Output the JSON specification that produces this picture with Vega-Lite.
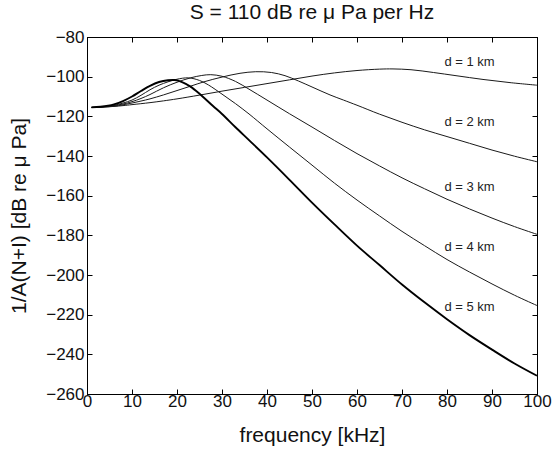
{
  "$schema": "https://vega.github.io/schema/vega-lite/v6.json",
  "width": 450,
  "height": 357,
  "autosize": {"type": "none"},
  "padding": {"left": 87, "top": 37, "right": 18, "bottom": 56},
  "background": "white",
  "title": {"text": "S = 110 dB re μ Pa per Hz", "orient": "top", "frame": "group", "fontSize": 21, "font": "Liberation Sans", "fontWeight": "normal", "color": "#111", "baseline": "bottom", "offset": 10, "dy": 26, "anchor": "middle"},
  "config": {
    "view": {"stroke": "#000", "strokeWidth": 1},
    "axis": {"grid": false, "minExtent": 0, "domainColor": "#000", "domainWidth": 1, "tickColor": "#000", "tickWidth": 1, "tickSize": -5, "labelFont": "Liberation Sans", "labelFontSize": 17, "labelColor": "#111", "titleFont": "Liberation Sans", "titleFontSize": 21, "titleFontWeight": "normal", "titleColor": "#111", "labelOverlap": false, "labelFlush": false}
  },
  "datasets": {
    "curves": [
      {"d": "1", "f": 1, "v": -115.5}, {"d": "1", "f": 3, "v": -115.4}, {"d": "1", "f": 6, "v": -115.0}, {"d": "1", "f": 8, "v": -114.6}, {"d": "1", "f": 10, "v": -114.1}, {"d": "1", "f": 14, "v": -113.1}, {"d": "1", "f": 17, "v": -112.2}, {"d": "1", "f": 20, "v": -111.2}, {"d": "1", "f": 25, "v": -109.3}, {"d": "1", "f": 30, "v": -107.3}, {"d": "1", "f": 35, "v": -105.4}, {"d": "1", "f": 40, "v": -103.5}, {"d": "1", "f": 45, "v": -101.6}, {"d": "1", "f": 50, "v": -99.7}, {"d": "1", "f": 55, "v": -98.1}, {"d": "1", "f": 60, "v": -96.9}, {"d": "1", "f": 65, "v": -96.2}, {"d": "1", "f": 68, "v": -96.1}, {"d": "1", "f": 72, "v": -96.5}, {"d": "1", "f": 77, "v": -97.9}, {"d": "1", "f": 82, "v": -99.5}, {"d": "1", "f": 88, "v": -101.4}, {"d": "1", "f": 94, "v": -103.0}, {"d": "1", "f": 100, "v": -104.3},
      {"d": "2", "f": 1, "v": -115.5}, {"d": "2", "f": 3, "v": -115.4}, {"d": "2", "f": 6, "v": -114.9}, {"d": "2", "f": 8, "v": -114.2}, {"d": "2", "f": 10, "v": -113.3}, {"d": "2", "f": 12, "v": -112.3}, {"d": "2", "f": 14, "v": -111.2}, {"d": "2", "f": 17, "v": -109.2}, {"d": "2", "f": 20, "v": -107.0}, {"d": "2", "f": 23, "v": -104.8}, {"d": "2", "f": 26, "v": -102.6}, {"d": "2", "f": 30, "v": -100.2}, {"d": "2", "f": 34, "v": -98.3}, {"d": "2", "f": 37.5, "v": -97.5}, {"d": "2", "f": 41, "v": -97.9}, {"d": "2", "f": 44, "v": -99.5}, {"d": "2", "f": 47, "v": -102.2}, {"d": "2", "f": 50, "v": -105.2}, {"d": "2", "f": 54, "v": -109.2}, {"d": "2", "f": 57, "v": -111.8}, {"d": "2", "f": 60, "v": -114.4}, {"d": "2", "f": 65, "v": -118.9}, {"d": "2", "f": 70, "v": -123.0}, {"d": "2", "f": 75, "v": -126.8}, {"d": "2", "f": 80, "v": -130.2}, {"d": "2", "f": 85, "v": -133.6}, {"d": "2", "f": 90, "v": -137.0}, {"d": "2", "f": 95, "v": -140.1}, {"d": "2", "f": 100, "v": -142.9},
      {"d": "3", "f": 1, "v": -115.5}, {"d": "3", "f": 3, "v": -115.3}, {"d": "3", "f": 6, "v": -114.6}, {"d": "3", "f": 8, "v": -113.8}, {"d": "3", "f": 10, "v": -112.6}, {"d": "3", "f": 12, "v": -111.0}, {"d": "3", "f": 14, "v": -109.0}, {"d": "3", "f": 17, "v": -105.6}, {"d": "3", "f": 20, "v": -102.8}, {"d": "3", "f": 23, "v": -100.6}, {"d": "3", "f": 25.5, "v": -99.4}, {"d": "3", "f": 27.5, "v": -99.0}, {"d": "3", "f": 30, "v": -99.8}, {"d": "3", "f": 33, "v": -102.4}, {"d": "3", "f": 36, "v": -106.3}, {"d": "3", "f": 40, "v": -111.8}, {"d": "3", "f": 45, "v": -118.7}, {"d": "3", "f": 50, "v": -125.4}, {"d": "3", "f": 55, "v": -132.2}, {"d": "3", "f": 60, "v": -138.8}, {"d": "3", "f": 65, "v": -145.0}, {"d": "3", "f": 70, "v": -151.0}, {"d": "3", "f": 75, "v": -156.5}, {"d": "3", "f": 80, "v": -161.8}, {"d": "3", "f": 85, "v": -166.7}, {"d": "3", "f": 90, "v": -171.3}, {"d": "3", "f": 95, "v": -175.6}, {"d": "3", "f": 100, "v": -179.5},
      {"d": "4", "f": 1, "v": -115.5}, {"d": "4", "f": 3, "v": -115.3}, {"d": "4", "f": 6, "v": -114.5}, {"d": "4", "f": 8, "v": -113.3}, {"d": "4", "f": 10, "v": -111.8}, {"d": "4", "f": 12, "v": -109.4}, {"d": "4", "f": 14, "v": -106.6}, {"d": "4", "f": 16, "v": -104.3}, {"d": "4", "f": 18, "v": -102.6}, {"d": "4", "f": 20, "v": -101.3}, {"d": "4", "f": 22.5, "v": -100.6}, {"d": "4", "f": 25, "v": -101.9}, {"d": "4", "f": 27, "v": -104.2}, {"d": "4", "f": 30, "v": -108.8}, {"d": "4", "f": 33, "v": -113.6}, {"d": "4", "f": 36, "v": -118.8}, {"d": "4", "f": 40, "v": -126.3}, {"d": "4", "f": 45, "v": -135.5}, {"d": "4", "f": 50, "v": -144.6}, {"d": "4", "f": 55, "v": -153.7}, {"d": "4", "f": 60, "v": -162.2}, {"d": "4", "f": 65, "v": -170.2}, {"d": "4", "f": 70, "v": -178.0}, {"d": "4", "f": 75, "v": -185.2}, {"d": "4", "f": 80, "v": -192.2}, {"d": "4", "f": 85, "v": -198.5}, {"d": "4", "f": 90, "v": -204.5}, {"d": "4", "f": 95, "v": -210.2}, {"d": "4", "f": 100, "v": -215.4},
      {"d": "5", "f": 1, "v": -115.5}, {"d": "5", "f": 3, "v": -115.2}, {"d": "5", "f": 6, "v": -114.0}, {"d": "5", "f": 8, "v": -112.3}, {"d": "5", "f": 10, "v": -110.0}, {"d": "5", "f": 12, "v": -107.2}, {"d": "5", "f": 14, "v": -104.6}, {"d": "5", "f": 16, "v": -102.7}, {"d": "5", "f": 18, "v": -101.8}, {"d": "5", "f": 19.5, "v": -101.7}, {"d": "5", "f": 21, "v": -102.6}, {"d": "5", "f": 23, "v": -105.0}, {"d": "5", "f": 25, "v": -108.6}, {"d": "5", "f": 28, "v": -114.8}, {"d": "5", "f": 30, "v": -118.8}, {"d": "5", "f": 33, "v": -125.5}, {"d": "5", "f": 36, "v": -132.0}, {"d": "5", "f": 40, "v": -140.7}, {"d": "5", "f": 45, "v": -152.0}, {"d": "5", "f": 50, "v": -163.5}, {"d": "5", "f": 55, "v": -174.5}, {"d": "5", "f": 60, "v": -185.2}, {"d": "5", "f": 65, "v": -195.0}, {"d": "5", "f": 70, "v": -204.8}, {"d": "5", "f": 75, "v": -213.8}, {"d": "5", "f": 80, "v": -222.3}, {"d": "5", "f": 85, "v": -230.3}, {"d": "5", "f": 90, "v": -237.6}, {"d": "5", "f": 95, "v": -244.6}, {"d": "5", "f": 100, "v": -250.8}
    ],
    "labels": [
      {"f": 85, "v": -92.8, "label": "d = 1 km"},
      {"f": 85, "v": -122.8, "label": "d = 2 km"},
      {"f": 85, "v": -155.8, "label": "d = 3 km"},
      {"f": 85, "v": -185.7, "label": "d = 4 km"},
      {"f": 85, "v": -216.3, "label": "d = 5 km"}
    ]
  },
  "layer": [
    {
      "data": {"name": "curves"},
      "transform": [{"filter": "datum.d != '5'"}],
      "mark": {"type": "line", "interpolate": "catmull-rom", "color": "#1a1a1a", "strokeWidth": 1},
      "encoding": {
        "x": {"field": "f", "type": "quantitative", "scale": {"domain": [0, 100], "nice": false, "zero": false},
              "axis": {"orient": "bottom", "values": [0, 10, 20, 30, 40, 50, 60, 70, 80, 90, 100], "labelPadding": 4, "title": "frequency [kHz]", "titleBaseline": "alphabetic", "titleY": 47}},
        "y": {"field": "v", "type": "quantitative", "scale": {"domain": [-260, -80], "nice": false, "zero": false},
              "axis": {"orient": "left", "values": [-260, -240, -220, -200, -180, -160, -140, -120, -100, -80], "labelPadding": 8, "title": "1/A(N+I) [dB re μ Pa]", "titleBaseline": "alphabetic", "titleX": -62, "titleY": 178.5}},
        "detail": {"field": "d", "type": "nominal"}
      }
    },
    {
      "data": {"name": "curves"},
      "transform": [{"filter": "datum.d == '5'"}],
      "mark": {"type": "line", "interpolate": "catmull-rom", "color": "#000", "strokeWidth": 1.9},
      "encoding": {
        "x": {"field": "f", "type": "quantitative", "axis": null},
        "y": {"field": "v", "type": "quantitative", "axis": null}
      }
    },
    {
      "data": {"name": "labels"},
      "mark": {"type": "text", "font": "Liberation Sans", "fontSize": 13, "color": "#222", "align": "center", "baseline": "middle"},
      "encoding": {
        "x": {"field": "f", "type": "quantitative",
              "axis": {"orient": "top", "values": [0, 10, 20, 30, 40, 50, 60, 70, 80, 90, 100], "labels": false, "title": null, "minExtent": 0, "maxExtent": 0}},
        "y": {"field": "v", "type": "quantitative",
              "axis": {"orient": "right", "values": [-260, -240, -220, -200, -180, -160, -140, -120, -100, -80], "labels": false, "title": null, "minExtent": 0, "maxExtent": 0}},
        "text": {"field": "label"}
      }
    }
  ],
  "resolve": {"axis": {"x": "independent", "y": "independent"}}
}
